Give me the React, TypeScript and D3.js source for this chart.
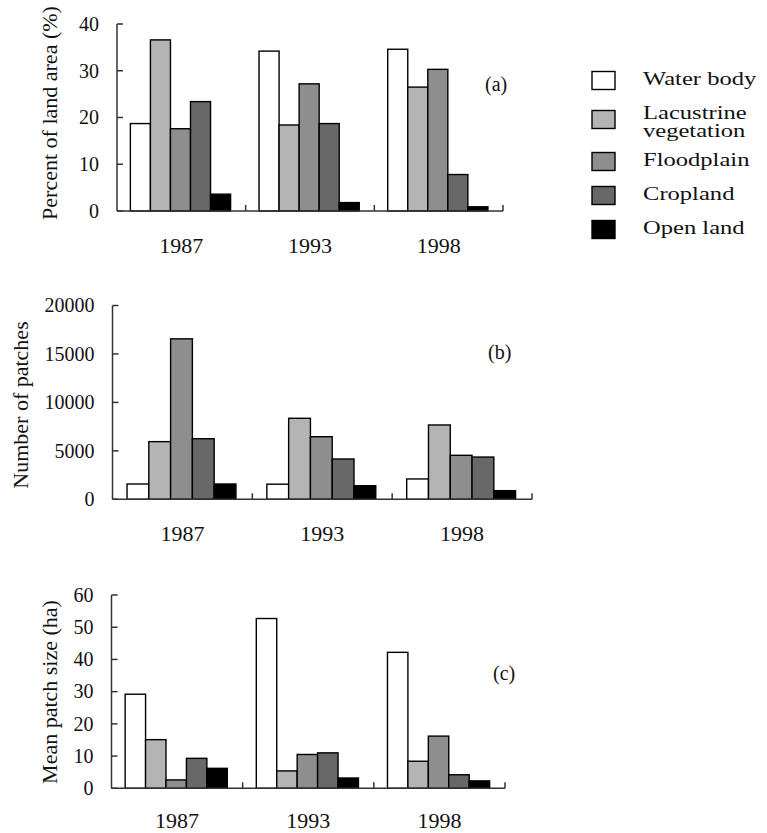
import React from 'react';
import * as d3 from 'd3';

const years = ['1987', '1993', '1998'];
const landClasses = ['Water body', 'Lacustrine vegetation', 'Floodplain', 'Cropland', 'Open land'];
const legendLines = [['Water body'], ['Lacustrine', 'vegetation'], ['Floodplain'], ['Cropland'], ['Open land']];
const classFills = ['#ffffff', '#b4b4b4', '#8e8e8e', '#686868', '#000000'];

// rows = years, columns = land classes
const percentArea = [
  [18.7, 36.6, 17.6, 23.4, 3.6],
  [34.2, 18.4, 27.2, 18.7, 1.8],
  [34.6, 26.5, 30.3, 7.8, 0.9],
];
const patchCount = [
  [1580, 5950, 16560, 6250, 1580],
  [1560, 8360, 6460, 4160, 1400],
  [2100, 7670, 4540, 4360, 890],
];
const meanPatchSize = [
  [29.2, 15.1, 2.6, 9.3, 6.2],
  [52.7, 5.4, 10.5, 11.0, 3.2],
  [42.2, 8.4, 16.2, 4.2, 2.3],
];

const ticksA = [0, 10, 20, 30, 40];
const ticksB = [0, 5000, 10000, 15000, 20000];
const ticksC = [0, 10, 20, 30, 40, 50, 60];

const font = '"Liberation Serif", "Times New Roman", serif';
const axisColor = '#333';

type PanelProps = {
  values: number[][];
  ticks: number[];
  title: string;
  tag: string;
  x0: number;
  x1: number;
  yTop: number;
  yBase: number;
  titleX: number;
  titleY: number;
  tagX: number;
  tagY: number;
  yearDy: number;
};

const Panel = ({ values, ticks, title, tag, x0, x1, yTop, yBase, titleX, titleY, tagX, tagY, yearDy }: PanelProps) => {
  const y = d3.scaleLinear().domain([0, d3.max(ticks) as number]).range([yBase, yTop]);
  const xCat = d3.scaleBand().domain(years).range([x0, x1]).padding(0);
  const xSer = d3
    .scaleBand()
    .domain(landClasses)
    .range([0, xCat.bandwidth()])
    .paddingInner(0)
    .paddingOuter(0.71)
    .align(0.47);

  return (
    <g>
      {/* bars */}
      {years.map((yr, i) => (
        <g key={yr} transform={`translate(${xCat(yr)},0)`}>
          {landClasses.map((c, j) => (
            <rect
              key={c}
              x={xSer(c)}
              y={y(values[i][j])}
              width={xSer.bandwidth()}
              height={yBase - y(values[i][j])}
              fill={classFills[j]}
              stroke="#000"
              strokeWidth={1.4}
            />
          ))}
        </g>
      ))}
      {/* y axis */}
      <line x1={x0} x2={x0} y1={yBase} y2={yTop} stroke={axisColor} strokeWidth={1.5} />
      {ticks.map((t) => (
        <g key={t}>
          <line x1={x0} x2={x0 + 6} y1={y(t)} y2={y(t)} stroke={axisColor} strokeWidth={1.5} />
          <text x={x0 - 18} y={y(t) + 6.8} textAnchor="end" fontSize={20} fontFamily={font} fill="#111">
            {t}
          </text>
        </g>
      ))}
      {/* x axis */}
      <line x1={x0} x2={x1} y1={yBase} y2={yBase} stroke={axisColor} strokeWidth={1.5} />
      {years.map((yr) => (
        <g key={yr}>
          <line
            x1={(xCat(yr) as number) + xCat.bandwidth()}
            x2={(xCat(yr) as number) + xCat.bandwidth()}
            y1={yBase}
            y2={yBase - 6}
            stroke={axisColor}
            strokeWidth={1.5}
          />
          <text
            x={(xCat(yr) as number) + xCat.bandwidth() / 2}
            y={yBase + yearDy}
            textAnchor="middle"
            fontSize={22}
            fontFamily={font}
            fill="#111"
          >
            {yr}
          </text>
        </g>
      ))}
      <text
        transform={`translate(${titleX},${titleY}) rotate(-90)`}
        textAnchor="middle"
        fontSize={22}
        fontFamily={font}
        fill="#111"
      >
        {title}
      </text>
      <text x={tagX} y={tagY} fontSize={20} fontFamily={font} fill="#111">
        {tag}
      </text>
    </g>
  );
};

const Legend = () => {
  const lineGap = 18;
  const rows: { lines: string[]; fill: string; base: number }[] = [];
  let base = 85.5;
  legendLines.forEach((lines, i) => {
    rows.push({ lines, fill: classFills[i], base });
    base += 34 + 13 * (lines.length - 1);
  });
  return (
    <g>
      {rows.map((r, i) => {
        const last = r.base + lineGap * (r.lines.length - 1);
        const cy = (r.base + last) / 2 - 5 - 4 * (r.lines.length - 1);
        return (
          <g key={i}>
            <rect x={592} y={cy - 9} width={23} height={18} fill={r.fill} stroke="#000" strokeWidth={1.4} />
            <g transform="translate(643,0) scale(1.26,1)">
              {r.lines.map((l, k) => (
                <text key={k} x={0} y={r.base + lineGap * k} fontSize={19.5} fontFamily={font} fill="#111">
                  {l}
                </text>
              ))}
            </g>
          </g>
        );
      })}
    </g>
  );
};

export default function App() {
  return (
    <svg
      width={767}
      height={833}
      style={{ position: 'absolute', left: 0, top: 0, background: '#fff' }}
    >
      <rect width={767} height={833} fill="#fff" />
      <Panel
        values={percentArea}
        ticks={ticksA}
        title="Percent of land area (%)"
        tag="(a)"
        x0={117}
        x1={503}
        yTop={24}
        yBase={211}
        titleX={57}
        titleY={113}
        tagX={485}
        tagY={90.5}
        yearDy={41.5}
      />
      <Panel
        values={patchCount}
        ticks={ticksB}
        title="Number of patches"
        tag="(b)"
        x0={112.5}
        x1={532}
        yTop={305.5}
        yBase={499.3}
        titleX={28}
        titleY={405}
        tagX={488}
        tagY={359}
        yearDy={41.5}
      />
      <Panel
        values={meanPatchSize}
        ticks={ticksC}
        title="Mean patch size (ha)"
        tag="(c)"
        x0={111.5}
        x1={505}
        yTop={595}
        yBase={788.3}
        titleX={57}
        titleY={692}
        tagX={493}
        tagY={680}
        yearDy={39.5}
      />
      <Legend />
    </svg>
  );
}
